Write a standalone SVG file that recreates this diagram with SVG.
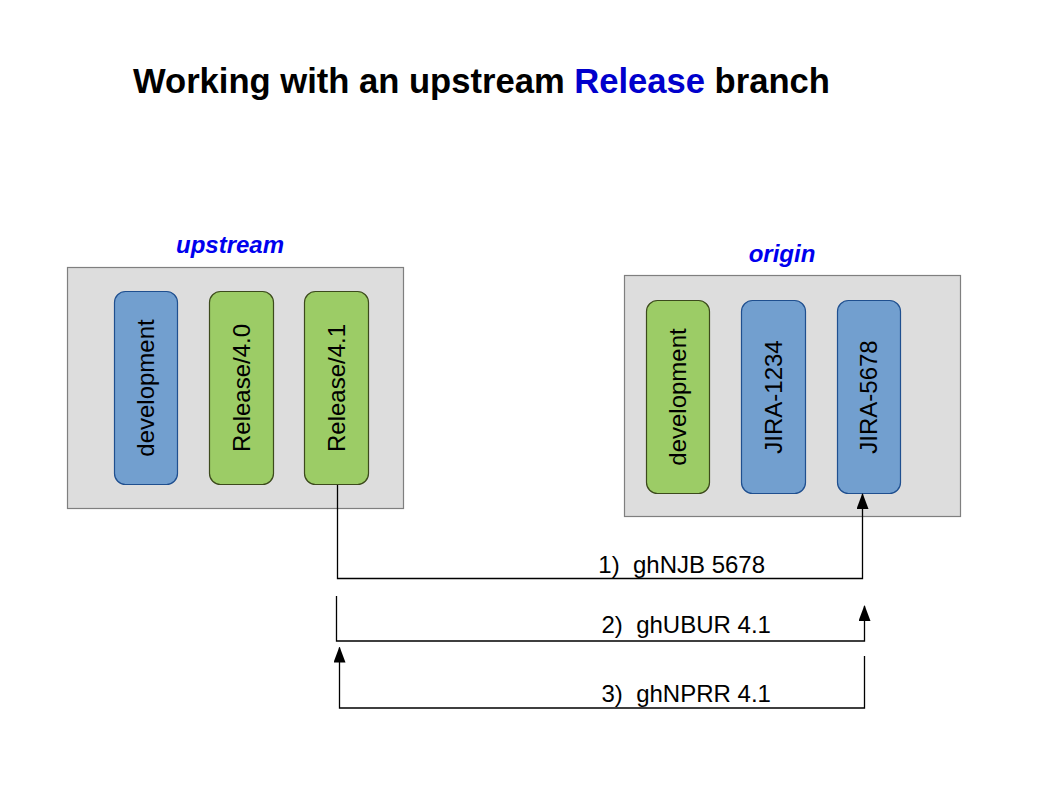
<svg xmlns="http://www.w3.org/2000/svg" width="1058" height="794" viewBox="0 0 1058 794">
<style>
.bg{fill:#ffffff}
.box{fill:#dddddd;stroke:#7f7f7f;stroke-width:1.2}
.blue{fill:#729fcf;stroke:#1f4f8f;stroke-width:1.2}
.green{fill:#9ccc66;stroke:#3c4a1c;stroke-width:1.2}
.t{font-family:"Liberation Sans",Arial,sans-serif;font-size:24px;fill:#000000}
.title{font-family:"Liberation Sans",Arial,sans-serif;font-size:34.6px;font-weight:bold;fill:#000000}
.repo{font-family:"Liberation Sans",Arial,sans-serif;font-size:24px;font-weight:bold;font-style:italic;fill:#0000ee;text-anchor:middle}
.node{text-anchor:middle}
.line{fill:none;stroke:#000000;stroke-width:1.3}
</style>
<defs>
<marker id="arr" viewBox="0 0 16 12" refX="15" refY="6" markerWidth="16" markerHeight="12" markerUnits="userSpaceOnUse" orient="auto">
<path d="M0,0 L16,6 L0,12 z" fill="#000000"/>
</marker>
</defs>
<rect class="bg" x="0" y="0" width="1058" height="794"/>
<text id="title" class="title" x="133" y="93">Working with an upstream <tspan fill="#0000cc">Release</tspan> branch</text>

<g id="upstream">
<text class="repo" x="230" y="253">upstream</text>
<rect class="box" x="67.5" y="267.5" width="336" height="241"/>
</g>
<g id="up-development">
<rect class="blue" x="114.5" y="291.5" width="63" height="193" rx="11"/>
<text class="t node" transform="translate(154.1,388) rotate(-90)">development</text>
</g>
<g id="up-release-4-0">
<rect class="green" x="209.5" y="291.5" width="64" height="193" rx="11"/>
<text class="t node" transform="translate(249.6,388) rotate(-90)">Release/4.0</text>
</g>
<g id="up-release-4-1">
<rect class="green" x="304.5" y="291.5" width="64" height="193" rx="11"/>
<text class="t node" transform="translate(344.6,388) rotate(-90)">Release/4.1</text>
</g>

<g id="origin">
<text class="repo" x="782" y="262">origin</text>
<rect class="box" x="624.5" y="275.5" width="336" height="241"/>
</g>
<g id="or-development">
<rect class="green" x="646.5" y="300.5" width="63" height="193" rx="11"/>
<text class="t node" transform="translate(686.3,397) rotate(-90)">development</text>
</g>
<g id="or-jira-1234">
<rect class="blue" x="741.5" y="300.5" width="64" height="193" rx="11"/>
<text class="t node" transform="translate(781.6,397) rotate(-90)">JIRA-1234</text>
</g>
<g id="or-jira-5678">
<rect class="blue" x="837.5" y="300.5" width="63" height="193" rx="11"/>
<text class="t node" transform="translate(877.3,397) rotate(-90)">JIRA-5678</text>
</g>

<g id="connectors">
<polyline class="line" points="337.5,485 337.5,578.5 862.5,578.5 862.5,494" marker-end="url(#arr)"/>
<polyline class="line" points="336.5,596 336.5,641 864.5,641 864.5,606" marker-end="url(#arr)"/>
<polyline class="line" points="864.5,656 864.5,708 339.5,708 339.5,647.5" marker-end="url(#arr)"/>
<text class="t" x="598.3" y="572.5" xml:space="preserve">1)  ghNJB 5678</text>
<text class="t" x="601.5" y="632.5" xml:space="preserve">2)  ghUBUR 4.1</text>
<text class="t" x="601.5" y="701.5" xml:space="preserve">3)  ghNPRR 4.1</text>
</g>
</svg>
